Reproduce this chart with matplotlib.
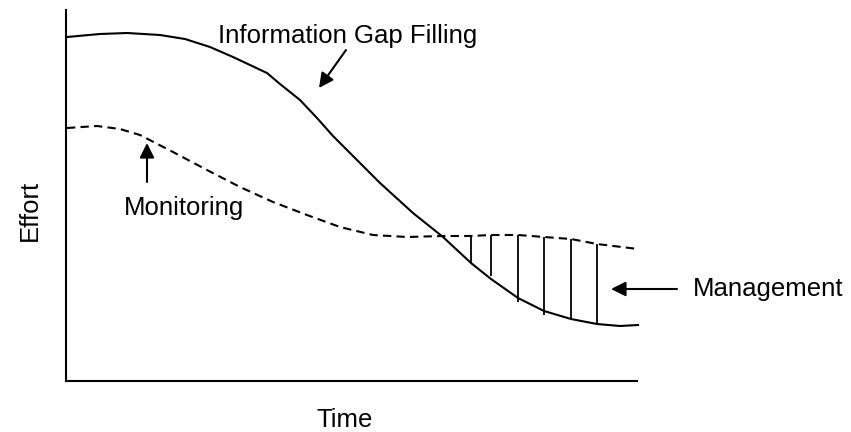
import matplotlib
matplotlib.use("Agg")
import matplotlib.pyplot as plt

plt.rcParams['font.family'] = ['Liberation Sans', 'DejaVu Sans']

# curves (time, effort) in arbitrary units
gap_time = [1, 34, 61, 94, 119, 144, 167, 201, 214, 234, 251, 267, 284, 314,
            347, 377, 405, 425, 452, 478, 505, 531, 554, 572]
gap_effort = [344, 347, 348, 346, 342, 334, 324, 308, 297, 281, 263, 245, 228, 198,
              168, 144, 118, 102, 83, 70, 62, 57, 55, 56]

mon_time = [1, 31, 54, 74, 107, 141, 174, 207, 241, 274, 307, 341, 377,
            405, 425, 452, 478, 505, 531, 572]
mon_effort = [253, 255, 252, 246, 229, 211, 194, 179, 166, 154, 146, 144, 145,
              145, 146, 146, 144, 142, 137, 132]

# vertical hatch lines marking the management area
hatch_time = [405, 425, 452, 478, 505, 531]
hatch_top = [145, 146, 146, 144, 142, 137]
hatch_bottom = [118, 105, 79, 66, 61, 56]

fig = plt.figure(figsize=(8.51, 4.32), dpi=100)
ax = fig.add_axes([66 / 851, 51 / 432, 571 / 851, 371 / 432])
ax.set_xlim(0, 571)
ax.set_ylim(0, 371)

ax.plot(gap_time, gap_effort, color='black', lw=1.5, clip_on=False,
        solid_joinstyle='round')
ax.plot(mon_time, mon_effort, color='black', lw=1.5, dashes=(4, 2.5), clip_on=False)
ax.vlines(hatch_time, hatch_bottom, hatch_top, color='black', lw=1.3)

for side in ['top', 'right']:
    ax.spines[side].set_visible(False)
for side in ['left', 'bottom']:
    ax.spines[side].set_linewidth(1.5)
ax.set_xticks([])
ax.set_yticks([])

fs = 18.5
arrow = dict(arrowstyle='-|>', color='black', lw=1.5, mutation_scale=22,
             shrinkA=0, shrinkB=0)

ax.text(282, 338, "Information Gap Filling", ha='center', va='baseline', fontsize=fs)
ax.annotate("", xy=(253, 293), xytext=(280, 331), arrowprops=arrow)

ax.text(118, 166, "Monitoring", ha='center', va='baseline', fontsize=fs)
ax.annotate("", xy=(81, 238), xytext=(81, 199), arrowprops=arrow)

ax.text(627, 85, "Management", ha='left', va='baseline', fontsize=fs, clip_on=False)
ax.annotate("", xy=(545, 92), xytext=(611, 92), arrowprops=arrow,
            annotation_clip=False)

ax.text(-36, 171, "Effort", rotation=90, ha='center', va='center', fontsize=fs,
        clip_on=False)
ax.text(279, -39, "Time", ha='center', va='center', fontsize=fs, clip_on=False)

fig.savefig("out.png", dpi=100)
